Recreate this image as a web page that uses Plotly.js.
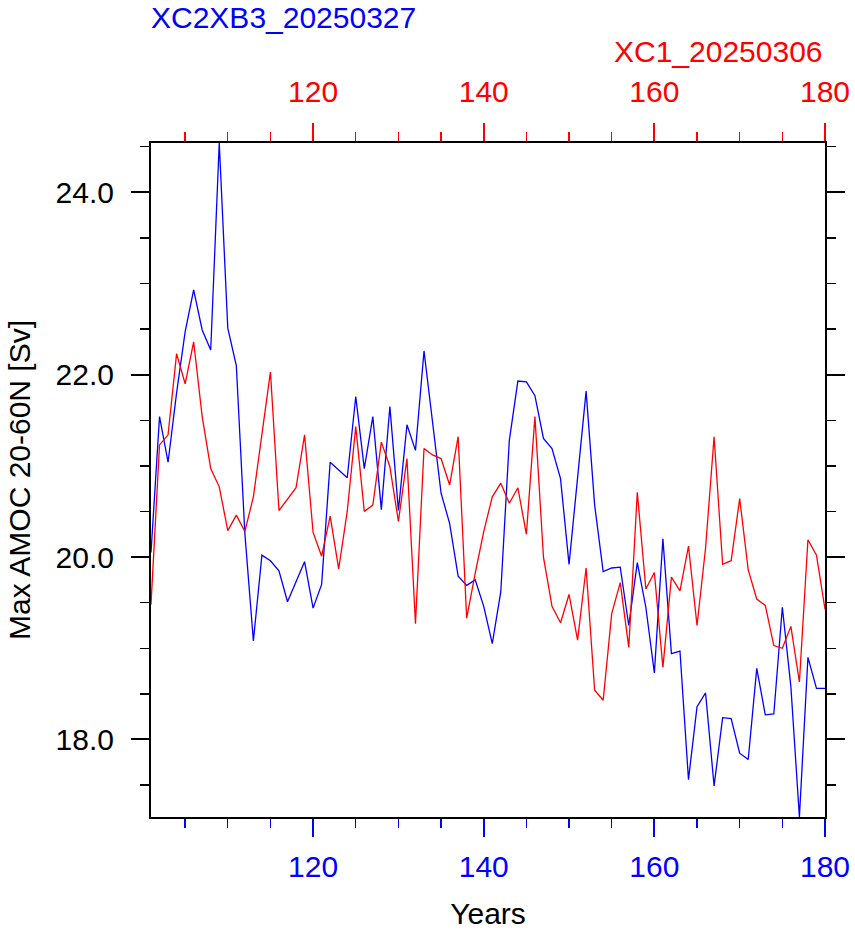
<!DOCTYPE html>
<html>
<head>
<meta charset="utf-8">
<script src="https://cdn.plot.ly/plotly-3.0.1.min.js"></script>
<style>
  html, body { margin: 0; padding: 0; background: #ffffff; }
  #chart { width: 855px; height: 931px; }
</style>
</head>
<body>
<div id="chart"></div>
<script>
// Model years shared by both runs
const years = [
  101, 102, 103, 104, 105, 106, 107, 108, 109, 110,
  111, 112, 113, 114, 115, 116, 117, 118, 119, 120,
  121, 122, 123, 124, 125, 126, 127, 128, 129, 130,
  131, 132, 133, 134, 135, 136, 137, 138, 139, 140,
  141, 142, 143, 144, 145, 146, 147, 148, 149, 150,
  151, 152, 153, 154, 155, 156, 157, 158, 159, 160,
  161, 162, 163, 164, 165, 166, 167, 168, 169, 170,
  171, 172, 173, 174, 175, 176, 177, 178, 179, 180
];

// Max AMOC 20-60N [Sv], run XC2XB3_20250327 (bottom axis, blue)
const amocXC2XB3 = [
  20.05, 21.54, 21.04, 21.80, 22.47, 22.93, 22.49, 22.27, 24.54, 22.51,
  22.10, 20.26, 19.08, 20.02, 19.96, 19.85, 19.51, 19.73, 19.95, 19.44,
  19.70, 21.04, 20.95, 20.87, 21.76, 20.97, 21.54, 20.52, 21.65, 20.51,
  21.45, 21.17, 22.26, 21.48, 20.70, 20.37, 19.79, 19.69, 19.75, 19.46,
  19.05, 19.62, 21.28, 21.93, 21.92, 21.77, 21.30, 21.19, 20.86, 19.92,
  20.85, 21.82, 20.57, 19.84, 19.88, 19.89, 19.25, 19.94, 19.45, 18.73,
  20.20, 18.94, 18.97, 17.56, 18.36, 18.51, 17.49, 18.24, 18.23, 17.85,
  17.78, 18.78, 18.27, 18.28, 19.45, 18.58, 17.15, 18.90, 18.56, 18.56
];

// Max AMOC 20-60N [Sv], run XC1_20250306 (top axis, red)
const amocXC1 = [
  19.48, 21.23, 21.34, 22.23, 21.90, 22.36, 21.54, 20.97, 20.77, 20.29,
  20.46, 20.28, 20.66, 21.35, 22.03, 20.51, 20.63, 20.76, 21.34, 20.27,
  20.01, 20.45, 19.87, 20.50, 21.43, 20.50, 20.57, 21.26, 20.99, 20.39,
  21.08, 19.27, 21.19, 21.12, 21.08, 20.79, 21.32, 19.33, 19.82, 20.28,
  20.66, 20.81, 20.59, 20.76, 20.25, 21.54, 20.00, 19.46, 19.28, 19.59,
  19.09, 19.88, 18.54, 18.43, 19.38, 19.72, 19.01, 20.71, 19.65, 19.83,
  18.79, 19.78, 19.63, 20.12, 19.25, 20.10, 21.32, 19.92, 19.96, 20.64,
  19.86, 19.54, 19.47, 19.03, 19.00, 19.24, 18.63, 20.19, 20.02, 19.43
];

const xTicks = [120, 140, 160, 180];
const yTicks = [18, 20, 22, 24];

const labelsBlue = "XC2XB3_20250327";
const labelsRed = "XC1_20250306";

const FONT = "'Liberation Sans', Arial, Helvetica, sans-serif";
const BLUE = "#0000ff";
const RED = "#ff0000";
const FS = 30;

const yMin = Math.min(...amocXC2XB3, ...amocXC1);
const yMax = Math.max(...amocXC2XB3, ...amocXC1);

const traces = [
  {
    x: years, y: amocXC2XB3, xaxis: "x", yaxis: "y",
    type: "scatter", mode: "lines",
    line: { color: BLUE, width: 1.3 },
    name: labelsBlue, hoverinfo: "x+y"
  },
  {
    x: years, y: amocXC1, xaxis: "x2", yaxis: "y",
    type: "scatter", mode: "lines",
    line: { color: RED, width: 1.3 },
    name: labelsRed, hoverinfo: "x+y"
  }
];

const xCommon = {
  range: [years[0], years[years.length - 1]],
  tickmode: "array",
  tickvals: xTicks,
  ticktext: xTicks.map(String),
  ticks: "outside",
  ticklen: 18,
  tickwidth: 2,
  showline: true,
  linecolor: "#000000",
  linewidth: 2,
  showgrid: false,
  zeroline: false,
  fixedrange: true,
  minor: { dtick: 5, tick0: 0, ticks: "outside", ticklen: 9, tickwidth: 1.3, showgrid: false }
};

const layout = {
  width: 855,
  height: 931,
  paper_bgcolor: "#ffffff",
  plot_bgcolor: "#ffffff",
  showlegend: false,
  margin: { l: 151, r: 30, t: 143, b: 114, pad: 0 },
  font: { family: FONT, size: FS, color: "#000000" },
  title: {
    text: labelsBlue,
    font: { family: FONT, size: FS, color: BLUE },
    xref: "paper", x: 0, xanchor: "left",
    yref: "container", y: 0.993, yanchor: "top",
    pad: { t: 0, b: 0, l: 0, r: 0 }
  },
  xaxis: Object.assign({}, xCommon, {
    side: "bottom",
    tickcolor: BLUE,
    tickfont: { family: FONT, size: FS, color: BLUE },
    ticklabelstandoff: 4,
    minor: Object.assign({}, xCommon.minor, { tickcolor: BLUE }),
    title: { text: "Years", font: { family: FONT, size: FS, color: "#000000" }, standoff: 21 },
    automargin: false
  }),
  xaxis2: Object.assign({}, xCommon, {
    side: "top",
    overlaying: "x",
    anchor: "y",
    tickcolor: RED,
    tickfont: { family: FONT, size: FS, color: RED },
    ticklabelstandoff: 9,
    minor: Object.assign({}, xCommon.minor, { tickcolor: RED }),
    automargin: false
  }),
  yaxis: {
    range: [yMin, yMax],
    tickmode: "array",
    tickvals: yTicks,
    ticktext: yTicks.map(v => v.toFixed(1)),
    ticks: "outside",
    ticklen: 18,
    tickwidth: 2,
    tickcolor: "#000000",
    tickfont: { family: FONT, size: FS, color: "#000000" },
    ticklabelstandoff: 11,
    showline: true,
    mirror: "ticks",
    linecolor: "#000000",
    linewidth: 2,
    showgrid: false,
    zeroline: false,
    fixedrange: true,
    minor: { dtick: 0.5, tick0: 0, ticks: "outside", ticklen: 9, tickwidth: 1.3, tickcolor: "#000000", showgrid: false },
    title: { text: "Max AMOC 20-60N [Sv]", font: { family: FONT, size: FS, color: "#000000" }, standoff: 16 },
    automargin: false
  },
  annotations: [
    {
      text: labelsRed,
      xref: "paper", yref: "paper",
      x: 1, y: 1.108,
      xanchor: "right", yanchor: "bottom",
      showarrow: false,
      font: { family: FONT, size: FS, color: RED }
    }
  ]
};

Plotly.newPlot("chart", traces, layout, { displayModeBar: false, staticPlot: true });
</script>
</body>
</html>
